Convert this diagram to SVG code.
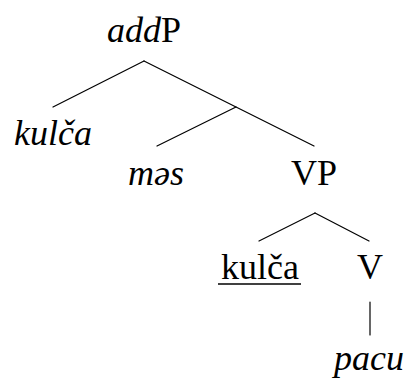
<svg xmlns="http://www.w3.org/2000/svg" width="408" height="381" viewBox="0 0 408 381">
  <style>
    .lbl { font-family: "Liberation Serif", "DejaVu Serif", serif; font-size: 36px; fill: #000; text-anchor: middle; }
    .it { font-style: italic; }
    .edge { stroke: #000; stroke-width: 1.2; fill: none; stroke-linecap: round; }
  </style>
  <rect width="408" height="381" fill="#fff"/>
  <!-- tree branches -->
  <g id="edges">
    <line class="edge" x1="144" y1="61" x2="53" y2="107"/>
    <line class="edge" x1="144" y1="61" x2="314" y2="146"/>
    <line class="edge" x1="236" y1="107" x2="157" y2="146"/>
    <line class="edge" x1="315" y1="213" x2="259" y2="241"/>
    <line class="edge" x1="315" y1="213" x2="369" y2="241"/>
    <line class="edge" x1="370" y1="302" x2="370" y2="335"/>
  </g>
  <g id="addP"><text class="lbl" x="144" y="42"><tspan class="it">add</tspan>P</text></g>
  <g id="kulca-spec"><text class="lbl it" x="53" y="145">kulča</text></g>
  <g id="mes"><text class="lbl it" x="156" y="185">məs</text></g>
  <g id="VP"><text class="lbl" x="314" y="185">VP</text></g>
  <g id="kulca-copy">
    <text class="lbl" x="260" y="279">kulča</text>
    <line x1="218" y1="284" x2="301" y2="284" stroke="#000" stroke-width="1.5"/>
  </g>
  <g id="V"><text class="lbl" x="370" y="279">V</text></g>
  <g id="pacu"><text class="lbl it" x="369" y="370">pacu</text></g>
</svg>
